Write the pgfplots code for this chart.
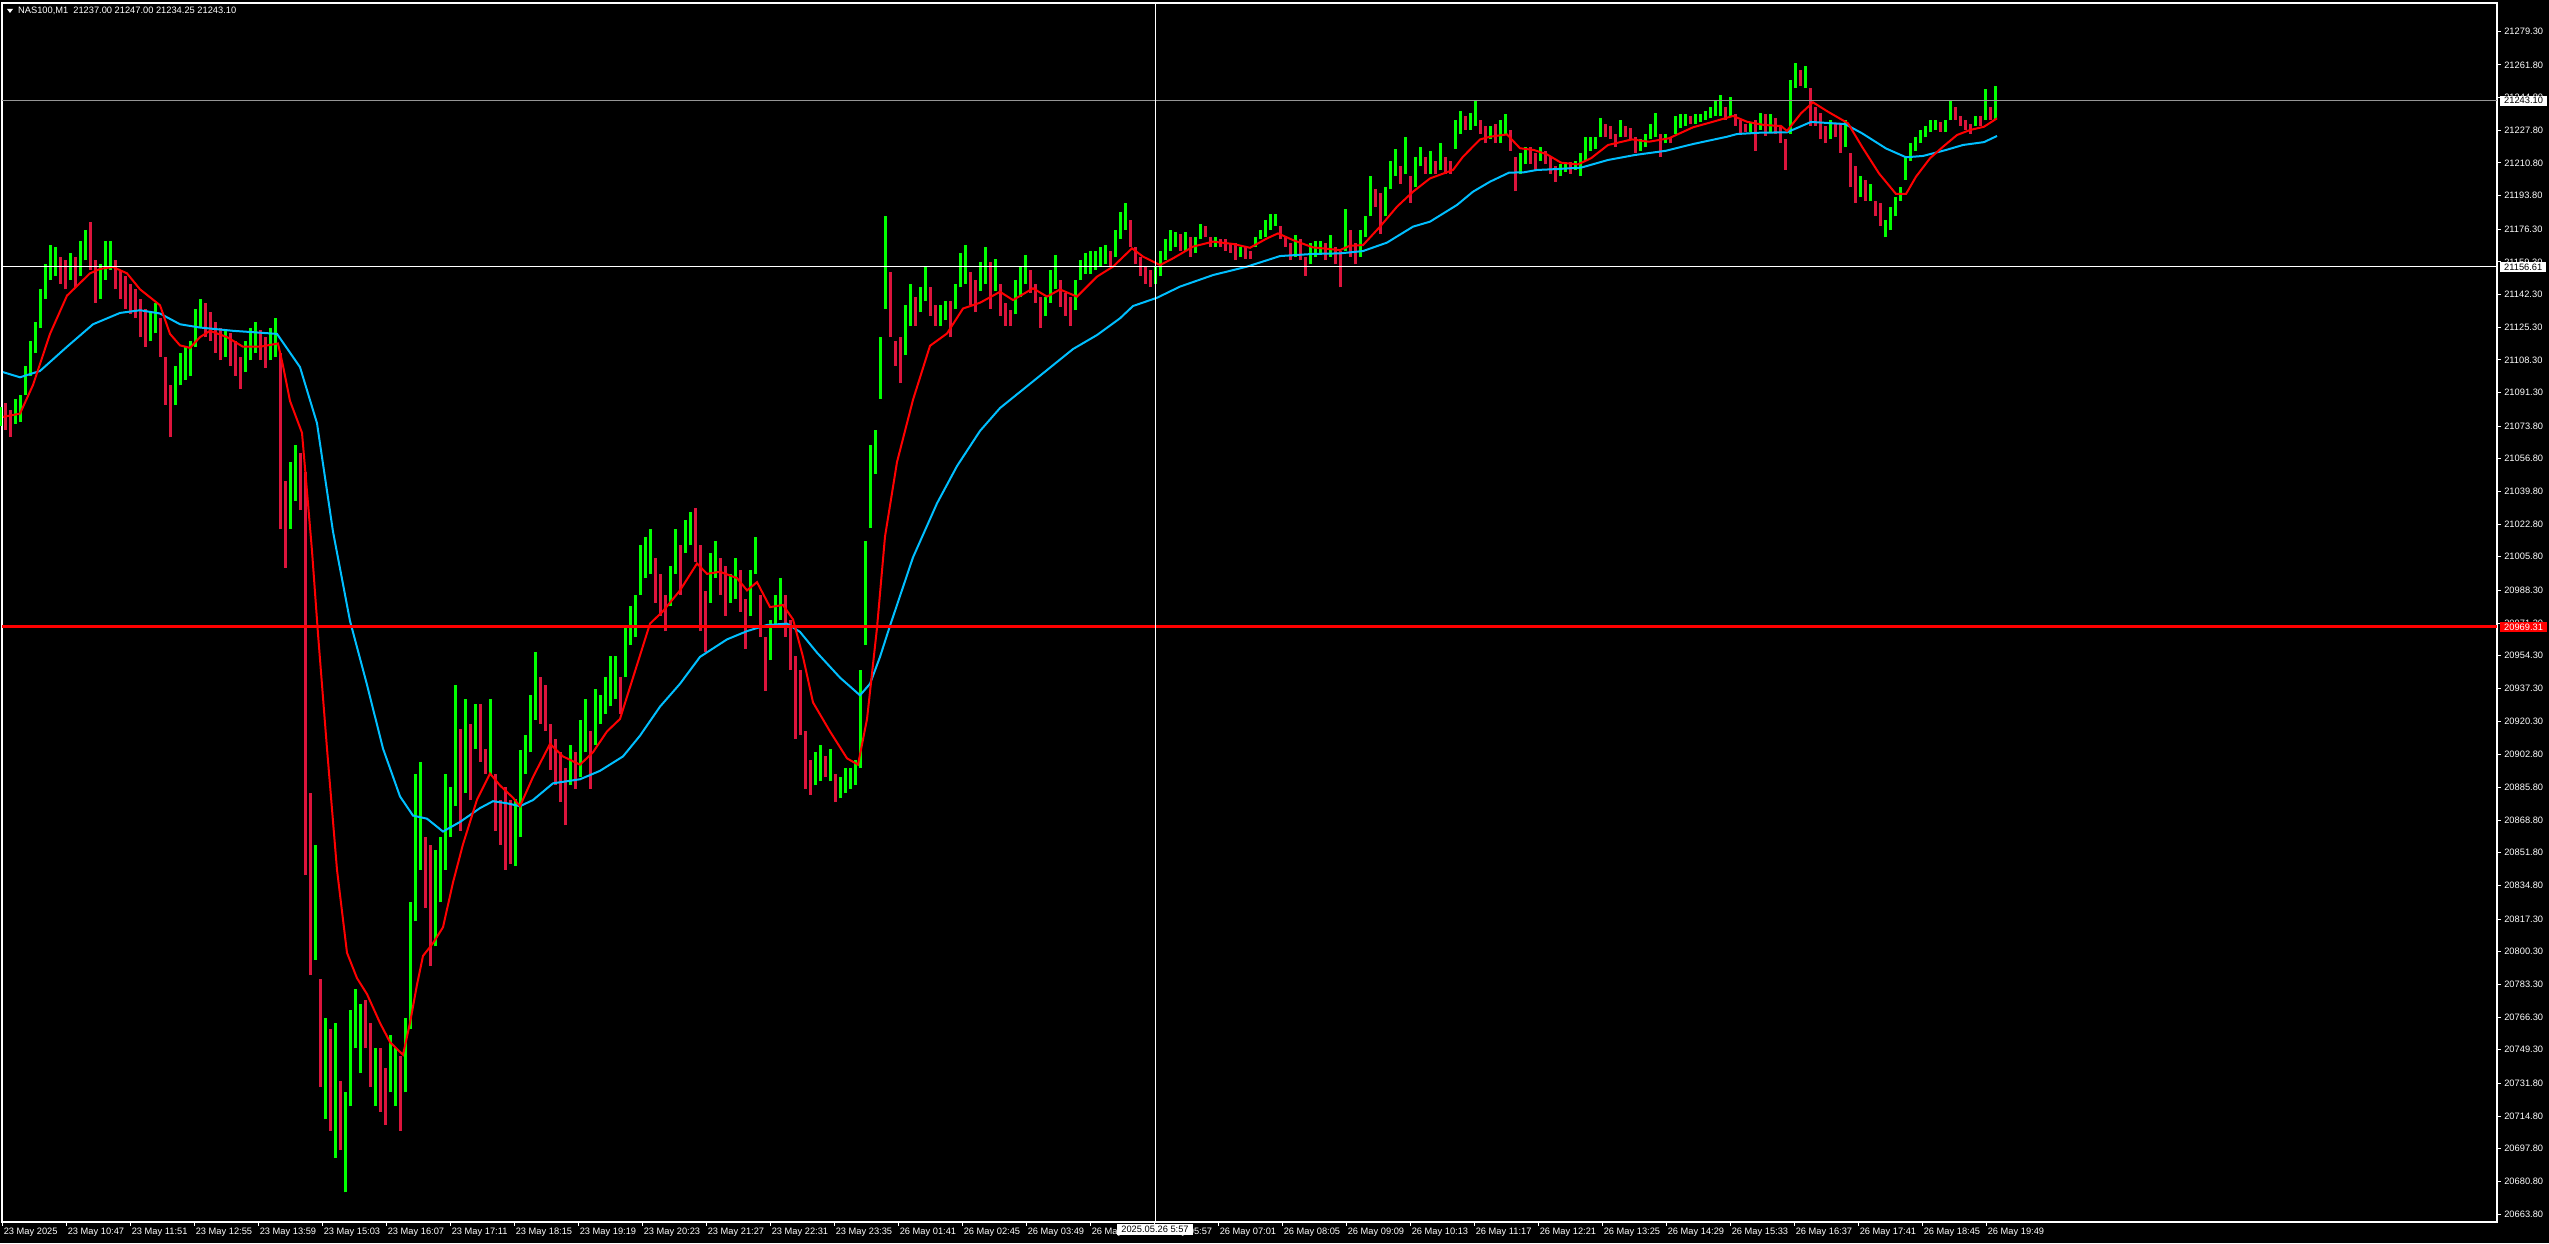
\documentclass[border=0pt]{standalone}
\usepackage{pgfplots}
\usepackage{pgfplotstable}
\usepackage{fontspec}
\setmainfont{Liberation Sans}
\pgfplotsset{compat=1.18}

\definecolor{upc}{RGB}{0,255,0}
\definecolor{dnc}{RGB}{220,20,60}
\definecolor{maslow}{RGB}{0,191,255}
\definecolor{mafast}{RGB}{255,0,0}
\definecolor{askline}{RGB}{150,150,150}

% M1 bars, one row per 5 bars: x = bar index (px), low, high, up(1)/down(0)
\pgfplotstableread{
x lo hi c
0 21074 21084 1
5 21072 21086 0
10 21068 21082 0
15 21075 21088 1
20 21076 21090 1
25 21090 21105 1
30 21100 21118 1
35 21112 21128 1
40 21125 21145 1
45 21140 21158 1
50 21150 21168 1
55 21152 21167 1
60 21148 21162 0
65 21145 21160 0
70 21150 21164 1
75 21146 21162 0
80 21152 21170 1
85 21160 21176 1
90 21155 21180 0
95 21138 21160 0
100 21140 21158 1
105 21150 21170 1
110 21155 21170 1
115 21145 21160 0
120 21140 21155 0
125 21135 21152 0
130 21132 21148 0
135 21130 21145 0
140 21120 21140 0
145 21115 21135 0
150 21118 21133 1
155 21122 21138 1
160 21110 21130 0
165 21085 21110 0
170 21068 21095 0
175 21085 21105 1
180 21095 21112 1
185 21098 21115 1
190 21100 21118 1
195 21115 21135 1
200 21125 21140 1
205 21120 21138 0
210 21118 21133 0
215 21112 21128 0
220 21108 21125 0
225 21110 21124 1
230 21105 21122 0
235 21100 21118 0
240 21093 21110 0
245 21102 21118 1
250 21108 21125 1
255 21112 21128 1
260 21108 21124 0
265 21104 21120 0
270 21108 21125 1
275 21110 21130 1
280 21020 21112 0
285 21000 21045 0
290 21020 21055 1
295 21035 21064 1
300 21030 21060 0
305 20840 21050 0
310 20788 20883 0
315 20796 20856 1
320 20730 20786 0
325 20713 20766 1
330 20707 20760 0
335 20693 20763 1
340 20697 20733 0
345 20675 20727 1
350 20720 20770 1
355 20750 20781 1
360 20737 20773 1
365 20750 20775 0
370 20730 20763 0
375 20720 20750 1
380 20717 20750 0
385 20710 20740 0
390 20727 20757 1
395 20720 20750 1
400 20707 20746 0
405 20727 20766 1
410 20760 20826 1
415 20816 20893 1
420 20843 20899 1
425 20823 20860 0
430 20793 20856 0
435 20803 20853 1
440 20826 20860 1
445 20843 20893 1
450 20860 20886 1
455 20876 20939 1
460 20863 20916 0
465 20883 20932 1
470 20879 20919 0
475 20906 20929 1
480 20899 20929 0
485 20893 20906 0
490 20893 20932 1
495 20863 20893 0
500 20856 20879 0
505 20843 20886 0
510 20846 20879 0
515 20845 20880 1
520 20860 20905 1
525 20893 20913 1
530 20904 20934 1
535 20921 20956 1
540 20919 20943 0
545 20915 20939 0
550 20895 20919 0
555 20887 20911 0
560 20878 20904 0
565 20866 20896 0
570 20887 20908 1
575 20885 20904 0
580 20891 20921 1
585 20904 20932 1
590 20885 20915 0
595 20908 20937 1
600 20919 20934 1
605 20924 20943 1
610 20928 20954 1
615 20932 20954 1
620 20924 20943 0
625 20943 20969 1
630 20960 20980 1
635 20964 20986 1
640 20986 21012 1
645 20995 21016 1
650 20997 21020 1
655 20982 21005 0
660 20975 20997 0
665 20967 20986 0
670 20980 21001 1
675 20997 21020 1
680 20986 21012 0
685 21008 21025 1
690 21012 21029 1
695 21003 21031 0
700 20967 21012 0
705 20956 20988 0
710 20982 21008 1
715 20995 21014 1
720 20986 21005 0
725 20975 21001 0
730 20982 20997 1
735 20984 21005 1
740 20977 20999 0
745 20958 20984 0
750 20975 20999 1
755 20997 21016 1
760 20964 20986 0
765 20936 20964 0
770 20952 20973 1
775 20969 20986 1
780 20973 20995 1
785 20964 20986 0
790 20947 20973 0
795 20911 20954 0
800 20913 20947 0
805 20885 20915 0
810 20882 20900 0
815 20887 20904 1
820 20889 20908 1
825 20891 20902 0
830 20889 20906 1
835 20878 20893 0
840 20880 20891 1
845 20883 20896 1
850 20885 20896 1
855 20887 20900 1
860 20896 20947 1
865 20960 21014 1
870 21021 21064 1
875 21049 21072 1
880 21088 21120 1
885 21135 21183 1
890 21120 21154 0
895 21105 21118 0
900 21096 21120 0
905 21111 21137 1
910 21126 21148 1
915 21126 21141 0
920 21133 21146 1
925 21139 21157 1
930 21131 21146 0
935 21126 21137 0
940 21126 21137 1
945 21129 21139 1
950 21120 21139 0
955 21135 21148 1
960 21146 21164 1
965 21148 21168 1
970 21137 21154 0
975 21133 21150 0
980 21144 21159 1
985 21148 21167 1
990 21135 21159 0
995 21144 21161 1
1000 21131 21148 0
1005 21126 21138 0
1010 21126 21134 0
1015 21132 21150 1
1020 21141 21157 1
1025 21148 21163 1
1030 21143 21155 0
1035 21138 21148 0
1040 21125 21141 0
1045 21131 21141 1
1050 21138 21155 1
1055 21145 21163 1
1060 21136 21150 0
1065 21131 21143 0
1070 21126 21141 0
1075 21134 21150 1
1080 21150 21160 1
1085 21153 21164 1
1090 21153 21165 1
1095 21155 21165 1
1100 21157 21167 1
1105 21158 21168 1
1110 21157 21165 0
1115 21162 21176 1
1120 21171 21185 1
1125 21176 21190 1
1130 21167 21181 0
1135 21158 21167 0
1140 21152 21162 0
1145 21148 21157 0
1150 21146 21155 0
1155 21148 21157 1
1160 21152 21165 1
1165 21160 21171 1
1170 21165 21176 1
1175 21167 21175 1
1180 21165 21174 0
1185 21165 21175 1
1190 21162 21172 0
1195 21164 21172 1
1200 21171 21179 1
1205 21172 21178 0
1210 21167 21172 0
1215 21167 21172 1
1220 21167 21171 0
1225 21165 21171 0
1230 21164 21169 0
1235 21160 21169 0
1240 21162 21167 1
1245 21161 21167 0
1250 21161 21165 0
1255 21167 21172 1
1260 21171 21176 1
1265 21172 21181 1
1270 21176 21184 1
1275 21178 21184 1
1280 21171 21178 0
1285 21167 21172 0
1290 21160 21169 0
1295 21162 21173 1
1300 21160 21171 0
1305 21152 21162 0
1310 21158 21169 1
1315 21162 21170 1
1320 21164 21170 1
1325 21160 21169 0
1330 21162 21173 1
1335 21158 21167 0
1340 21146 21165 0
1345 21165 21187 1
1350 21162 21176 0
1355 21158 21169 0
1360 21162 21176 1
1365 21172 21183 1
1370 21183 21204 1
1375 21188 21197 0
1380 21174 21195 0
1385 21183 21198 1
1390 21197 21212 1
1395 21204 21218 1
1400 21200 21209 0
1405 21205 21224 1
1410 21190 21204 0
1415 21198 21214 1
1420 21209 21219 1
1425 21205 21214 0
1430 21205 21217 1
1435 21205 21212 0
1440 21207 21221 1
1445 21205 21214 0
1450 21205 21212 0
1455 21218 21233 1
1460 21226 21238 1
1465 21228 21235 0
1470 21228 21237 1
1475 21230 21243 1
1480 21226 21233 0
1485 21221 21230 0
1490 21223 21230 1
1495 21221 21231 0
1500 21221 21233 1
1505 21226 21236 1
1510 21217 21228 0
1515 21196 21214 0
1520 21205 21216 1
1525 21210 21219 1
1530 21210 21219 0
1535 21207 21216 0
1540 21212 21219 1
1545 21210 21217 0
1550 21205 21214 0
1555 21201 21209 0
1560 21204 21210 1
1565 21206 21210 1
1570 21205 21211 0
1575 21207 21212 1
1580 21204 21216 1
1585 21212 21224 1
1590 21217 21224 1
1595 21218 21224 1
1600 21224 21234 1
1605 21224 21231 0
1610 21223 21230 0
1615 21219 21226 0
1620 21224 21233 1
1625 21224 21230 0
1630 21223 21229 0
1635 21216 21224 0
1640 21217 21223 1
1645 21219 21226 1
1650 21223 21231 1
1655 21224 21237 1
1660 21214 21226 0
1665 21221 21226 1
1670 21221 21224 0
1675 21226 21235 1
1680 21229 21236 1
1685 21230 21236 1
1690 21231 21235 0
1695 21231 21236 1
1700 21232 21236 1
1705 21233 21238 1
1710 21234 21240 1
1715 21235 21243 1
1720 21235 21246 1
1725 21233 21240 0
1730 21235 21245 1
1735 21230 21236 0
1740 21226 21233 0
1745 21227 21231 0
1750 21227 21232 1
1755 21217 21233 0
1760 21228 21237 1
1765 21225 21236 0
1770 21227 21236 1
1775 21226 21234 0
1780 21221 21230 0
1785 21207 21223 0
1790 21226 21254 1
1795 21250 21263 1
1800 21251 21259 0
1805 21250 21261 1
1810 21230 21250 0
1815 21230 21240 0
1820 21223 21237 0
1825 21221 21230 0
1830 21223 21233 1
1835 21224 21231 0
1840 21216 21231 0
1845 21219 21233 1
1850 21198 21216 0
1855 21190 21209 0
1860 21193 21204 1
1865 21191 21202 0
1870 21191 21200 1
1875 21183 21191 0
1880 21178 21190 0
1885 21172 21181 1
1890 21176 21188 1
1895 21183 21193 1
1900 21191 21198 1
1905 21202 21214 1
1910 21212 21221 1
1915 21217 21224 1
1920 21221 21228 1
1925 21224 21230 1
1930 21227 21233 1
1935 21228 21233 1
1940 21227 21232 0
1945 21227 21233 1
1950 21233 21243 1
1955 21233 21240 0
1960 21230 21235 0
1965 21228 21233 0
1970 21226 21231 0
1975 21230 21235 1
1980 21230 21235 0
1985 21233 21249 1
1990 21233 21240 0
1995 21233 21251 1
}\candles

% fast moving average (red)
\pgfplotstableread{
x y
3 21078.6
20 21080.3
33 21095.2
50 21121.8
67 21141.7
90 21153.3
100 21155.6
113 21156.6
127 21153.3
140 21145.0
160 21136.7
170 21121.8
180 21115.8
190 21114.5
200 21120.1
210 21123.4
227 21120.1
243 21115.1
260 21115.1
278 21116.8
283 21105.2
290 21086.9
302 21070.3
305 21052.0
312 21008.9
318 20965.7
327 20906.0
337 20842.9
347 20799.7
357 20786.5
367 20778.2
380 20763.2
390 20753.2
403 20746.6
410 20763.2
417 20783.1
423 20798.1
433 20804.7
443 20813.0
453 20836.3
463 20856.2
477 20879.4
490 20893.0
500 20886.8
513 20880.4
520 20876.0
533 20891.2
550 20908.4
563 20901.9
580 20897.6
593 20904.1
607 20914.9
620 20921.4
633 20942.9
650 20971.0
663 20977.5
680 20988.3
697 21002.3
707 20996.9
720 20998.0
737 20994.7
747 20988.3
757 20992.6
770 20979.6
783 20980.7
793 20973.2
803 20953.7
813 20930.0
830 20914.9
847 20900.9
858 20897.6
867 20921.3
877 20968.8
885 21016.3
897 21055.1
913 21087.5
930 21115.6
947 21122.0
963 21135.0
980 21138.0
1000 21143.7
1013 21139.4
1033 21145.5
1047 21141.2
1060 21144.9
1077 21141.2
1097 21151.6
1113 21156.8
1132 21166.3
1143 21162.0
1160 21157.6
1173 21161.1
1193 21167.2
1213 21169.8
1233 21168.6
1250 21166.6
1267 21171.5
1278 21174.1
1293 21170.6
1313 21166.8
1340 21165.4
1350 21167.7
1363 21168.0
1380 21177.6
1397 21188.0
1413 21195.8
1430 21202.7
1453 21207.1
1463 21214.0
1480 21223.0
1490 21224.4
1507 21225.6
1520 21218.4
1534 21217.5
1547 21215.2
1561 21210.9
1578 21210.0
1591 21213.2
1608 21220.1
1632 21223.0
1649 21221.8
1669 21223.6
1693 21229.3
1713 21232.2
1733 21235.2
1747 21232.2
1764 21230.5
1781 21230.0
1787 21227.4
1801 21236.6
1813 21242.3
1828 21237.4
1848 21231.4
1862 21219.2
1879 21205.3
1896 21194.6
1906 21194.6
1916 21203.6
1930 21213.2
1943 21219.2
1957 21225.3
1970 21227.9
1984 21229.6
1997 21234.0
}\fastma

% slow moving average (blue)
\pgfplotstableread{
x y
3 21101.9
20 21099.2
40 21102.5
67 21115.1
93 21126.8
120 21132.7
140 21134.1
160 21132.4
180 21126.8
200 21125.1
233 21123.4
277 21121.8
300 21104.5
317 21075.3
333 21018.9
350 20972.4
367 20939.2
383 20906.0
400 20881.1
413 20871.1
427 20869.5
443 20862.8
460 20867.8
480 20875.0
493 20878.6
507 20877.5
520 20876.0
533 20879.2
553 20887.9
580 20890.0
600 20894.4
623 20901.9
640 20912.7
660 20927.8
680 20939.7
700 20953.7
727 20962.8
747 20967.1
767 20970.3
787 20971.0
800 20966.7
817 20955.9
840 20942.9
860 20933.7
870 20939.7
880 20953.7
890 20969.9
913 21005.5
937 21033.6
957 21053.0
980 21071.3
1000 21083.2
1073 21113.9
1097 21121.2
1120 21129.9
1133 21136.3
1157 21140.6
1180 21146.4
1213 21152.4
1247 21156.8
1280 21162.3
1313 21163.4
1340 21163.7
1363 21164.9
1387 21169.3
1413 21177.6
1430 21180.2
1457 21188.9
1473 21195.8
1490 21201.0
1509 21205.7
1524 21205.9
1537 21207.1
1558 21207.6
1581 21208.3
1608 21212.3
1635 21214.9
1666 21217.1
1693 21220.6
1727 21224.4
1737 21225.8
1760 21226.5
1787 21226.7
1811 21232.1
1845 21231.0
1862 21226.2
1886 21218.3
1906 21213.7
1923 21214.4
1946 21217.5
1963 21220.1
1984 21221.6
1997 21224.8
}\slowma

\begin{document}
\fontsize{9.3}{10}\selectfont
\begin{tikzpicture}[x=1pt,y=1pt]
\fill[black] (-2,-21) rectangle (2547,1222);
\useasboundingbox (-2,-21) rectangle (2547,1222);
\begin{axis}[
    at={(0,0)}, anchor=south west,
    scale only axis, width=2495pt, height=1219pt,
    xmin=2, xmax=2497, ymin=20659.6, ymax=21294,
    clip=false,
    axis line style={white, line width=1.2pt},
    tick align=outside, major tick length=4pt,
    tick style={white, line width=0.8pt},
    xtick pos=bottom, ytick pos=right, yticklabel pos=right,
    tick label style={font=\fontsize{9.3}{10}\selectfont, text=white},
    xticklabel style={anchor=north west, xshift=-1.5pt, yshift=1.5pt},
    xtick={2,66,130,194,258,322,386,450,514,578,642,706,770,834,898,962,1026,1090,1154,1218,1282,1346,1410,1474,1538,1602,1666,1730,1794,1858,1922,1986},
    xticklabels={23 May 2025, 23 May 10:47, 23 May 11:51, 23 May 12:55, 23 May 13:59, 23 May 15:03, 23 May 16:07, 23 May 17:11, 23 May 18:15, 23 May 19:19, 23 May 20:23, 23 May 21:27, 23 May 22:31, 23 May 23:35, 26 May 01:41, 26 May 02:45, 26 May 03:49, 26 May 04:53, 26 May 05:57, 26 May 07:01, 26 May 08:05, 26 May 09:09, 26 May 10:13, 26 May 11:17, 26 May 12:21, 26 May 13:25, 26 May 14:29, 26 May 15:33, 26 May 16:37, 26 May 17:41, 26 May 18:45, 26 May 19:49},
    ytick={21279.30,21261.80,21244.80,21227.80,21210.80,21193.80,21176.30,21159.30,21142.30,21125.30,21108.30,21091.30,21073.80,21056.80,21039.80,21022.80,21005.80,20988.30,20971.30,20954.30,20937.30,20920.30,20902.80,20885.80,20868.80,20851.80,20834.80,20817.30,20800.30,20783.30,20766.30,20749.30,20731.80,20714.80,20697.80,20680.80,20663.80},
    yticklabels={21279.30,21261.80,21244.80,21227.80,21210.80,21193.80,21176.30,21159.30,21142.30,21125.30,21108.30,21091.30,21073.80,21056.80,21039.80,21022.80,21005.80,20988.30,20971.30,20954.30,20937.30,20920.30,20902.80,20885.80,20868.80,20851.80,20834.80,20817.30,20800.30,20783.30,20766.30,20749.30,20731.80,20714.80,20697.80,20680.80,20663.80},
]
% down bars
\addplot[draw=none, mark=none, forget plot,
    restrict expr to domain={\thisrow{c}}{-0.5:0.5},
    error bars/.cd, y dir=plus, y explicit, error mark=none,
    error bar style={draw=dnc, line width=3pt}]
    table[x=x, y=lo, y error plus expr=\thisrow{hi}-\thisrow{lo}] \candles;
% up bars
\addplot[draw=none, mark=none, forget plot,
    restrict expr to domain={\thisrow{c}}{0.5:1.5},
    error bars/.cd, y dir=plus, y explicit, error mark=none,
    error bar style={draw=upc, line width=3pt}]
    table[x=x, y=lo, y error plus expr=\thisrow{hi}-\thisrow{lo}] \candles;

\addplot[maslow, line width=2pt, mark=none] table[x=x, y=y] \slowma;
\addplot[mafast, line width=2pt, mark=none] table[x=x, y=y] \fastma;

% horizontal price lines
\addplot[askline, line width=1pt, mark=none] coordinates {(2,21243.10) (2497,21243.10)};
\addplot[red, line width=3pt, mark=none] coordinates {(2,20969.31) (2497,20969.31)};
% crosshair
\addplot[white, line width=1pt, mark=none] coordinates {(2,21156.61) (2497,21156.61)};
\addplot[white, line width=1pt, mark=none] coordinates {(1155,20659.6) (1155,21294)};

\node[fill=white, text=black, anchor=west, inner xsep=4pt, inner ysep=2pt, xshift=3pt] at (axis cs:2497,21243.10) {21243.10};
\node[fill=white, text=black, anchor=west, inner xsep=4pt, inner ysep=2pt, xshift=3pt] at (axis cs:2497,21156.61) {21156.61};
\node[fill=red, text=white, anchor=west, inner xsep=4pt, inner ysep=2pt, xshift=3pt] at (axis cs:2497,20969.31) {20969.31};
\node[fill=white, text=black, anchor=north, inner xsep=4pt, inner ysep=2pt, yshift=-2pt] at (axis cs:1155,20659.6) {2025.05.26 5:57};
\end{axis}
\fill[white] (5,1213) -- (11,1213) -- (8,1209) -- cycle;
\node[anchor=west, text=white, inner sep=0pt] at (16,1211) {NAS100,M1\hspace{5pt}21237.00 21247.00 21234.25 21243.10};
\end{tikzpicture}
\end{document}
